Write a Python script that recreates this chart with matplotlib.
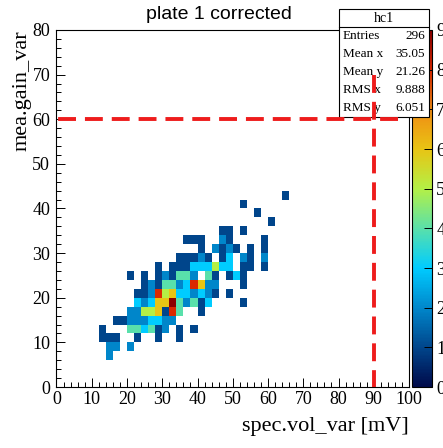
import numpy as np
import matplotlib
matplotlib.use("Agg")
import matplotlib.pyplot as plt
from matplotlib.colors import LinearSegmentedColormap
from matplotlib.patches import Rectangle
from matplotlib.lines import Line2D
from matplotlib.ticker import MultipleLocator

plt.rcParams['font.family'] = ['Liberation Serif', 'DejaVu Serif']

# 2D histogram cells: lower x edge, lower y edge, entries (bins are 2 x 2)
cell_x = [64,
          52,
          56,
          60,
          46, 48, 52,
          36, 38, 40, 46, 48, 58,
          40, 44, 46, 48, 50, 54, 58,
          34, 36, 38, 40, 42, 46, 48, 52, 54, 58,
          28, 32, 34, 36, 38, 40, 42, 44, 46, 48, 52, 54, 58,
          20, 24, 28, 30, 32, 34, 36, 38, 42, 44, 48, 50, 52,
          24, 26, 28, 30, 32, 34, 36, 38, 40, 42, 44, 52,
          22, 24, 26, 28, 30, 32, 34, 36, 38, 40, 42, 44, 48,
          22, 24, 26, 28, 30, 32, 34, 36, 38, 40, 42, 52,
          20, 22, 24, 26, 28, 30, 32, 34, 40,
          16, 18, 20, 22, 24, 26, 28, 30, 32,
          12, 20, 22, 24, 26, 28, 30, 34, 38,
          12, 14, 16, 22, 28, 34,
          14, 16, 20,
          14]
cell_y = [42,
          40,
          38,
          36,
          34, 34, 34,
          32, 32, 32, 32, 32, 32,
          30, 30, 30, 30, 30, 30, 30,
          28, 28, 28, 28, 28, 28, 28, 28, 28, 28,
          26, 26, 26, 26, 26, 26, 26, 26, 26, 26, 26, 26, 26,
          24, 24, 24, 24, 24, 24, 24, 24, 24, 24, 24, 24, 24,
          22, 22, 22, 22, 22, 22, 22, 22, 22, 22, 22, 22,
          20, 20, 20, 20, 20, 20, 20, 20, 20, 20, 20, 20, 20,
          18, 18, 18, 18, 18, 18, 18, 18, 18, 18, 18, 18,
          16, 16, 16, 16, 16, 16, 16, 16, 16,
          14, 14, 14, 14, 14, 14, 14, 14, 14,
          12, 12, 12, 12, 12, 12, 12, 12, 12,
          10, 10, 10, 10, 10, 10,
          8, 8, 8,
          6]
cell_n = [1,
          1,
          1,
          1,
          1, 1, 1,
          1, 1, 1, 2, 1, 1,
          1, 2, 1, 2, 1, 1, 1,
          1, 1, 1, 2, 1, 1, 3, 2, 1, 2,
          1, 1, 1, 1, 3, 3, 3, 5, 3, 3, 1, 1, 1,
          1, 1, 1, 2, 1, 4, 4, 2, 4, 1, 1, 3, 1,
          1, 2, 1, 4, 4, 2, 3, 8, 6, 2, 2, 1,
          1, 1, 2, 8, 5, 6, 3, 3, 2, 3, 2, 1, 1,
          3, 2, 3, 6, 6, 9, 4, 2, 4, 1, 3, 1,
          2, 2, 5, 5, 6, 1, 8, 4, 1,
          1, 1, 2, 2, 2, 3, 3, 2, 2,
          1, 4, 4, 3, 4, 1, 2, 1, 1,
          1, 1, 1, 1, 1, 1,
          2, 2, 2,
          2]

stat_names = ['Entries', 'Mean x', 'Mean y', 'RMS x', 'RMS y']
stat_values = ['296', '35.05', '21.26', '9.888', '6.051']

x_edges = np.arange(0, 102, 2)
y_edges = np.arange(0, 82, 2)
H = np.zeros((len(y_edges) - 1, len(x_edges) - 1))
for x, y, n in zip(cell_x, cell_y, cell_n):
    H[y // 2, x // 2] = n
H = np.ma.masked_equal(H, 0)

# palette close to the ROOT one in the picture
stops = ['#000a4a', '#00468c', '#0088cc', '#00ccff', '#5ae0aa',
         '#b4f046', '#e8c414', '#f08c14', '#dc2800', '#8c0000']
cmap = LinearSegmentedColormap.from_list('rootpal', list(zip(np.linspace(0, 1, 10), stops)))

W, Hpx = 443, 448
fig = plt.figure(figsize=(W / 100, Hpx / 100), dpi=100)
ax = fig.add_axes([56.5 / W, 61 / Hpx, 352.5 / W, 357 / Hpx])
cax = fig.add_axes([412 / W, 61 / Hpx, 20 / W, 357 / Hpx])
ax.set_zorder(2)

mesh = ax.pcolormesh(x_edges, y_edges, H, cmap=cmap, vmin=0, vmax=9,
                     edgecolors='none', antialiased=False)
ax.set_xlim(0, 100)
ax.set_ylim(0, 80)

ax.xaxis.set_major_locator(MultipleLocator(10))
ax.xaxis.set_minor_locator(MultipleLocator(2))
ax.yaxis.set_major_locator(MultipleLocator(10))
ax.yaxis.set_minor_locator(MultipleLocator(2))
ax.tick_params(which='major', direction='in', length=6.5, width=0.7, labelsize=13, top=False, right=False)
ax.tick_params(which='minor', direction='in', length=3.6, width=0.7, top=False, right=False)
ax.tick_params(axis='x', pad=3)
ax.tick_params(axis='y', pad=4.5)
for s in ax.spines.values():
    s.set_linewidth(0.8)

ax.set_xlabel('spec.vol_var [mV]', fontsize=16, loc='right')
ax.xaxis.set_label_coords(1.0, -0.085)
ax.set_ylabel('mea.gain_var', fontsize=16, loc='top')
ax.yaxis.set_label_coords(-0.07, 1.0)

fig.text(219 / W, 1 - 14.5 / Hpx, 'plate 1 corrected', ha='center', va='center',
         family='Liberation Sans', fontsize=14)

# red cut lines
ax.plot([97, 0], [60, 60], color='#ee1c1c', lw=2.8, linestyle=(0, (4.6, 2.3)), zorder=7)
ax.plot([90, 90], [70, 0], color='#ee1c1c', lw=2.8, linestyle=(0, (4.6, 2.3)), zorder=7)

cb = fig.colorbar(mesh, cax=cax, ticks=range(10))
cb.outline.set_linewidth(0.8)
cax.tick_params(direction='in', length=5.5, width=0.7, labelsize=13, pad=3)

# stats box
def fp(x, y):
    return (x / W, 1 - y / Hpx)

box_l, box_r, box_t, box_b, box_sep = 339, 429, 9.3, 116.7, 27.3
rect = Rectangle(fp(box_l, box_b), (box_r - box_l) / W, (box_b - box_t) / Hpx,
                 transform=fig.transFigure, fc='white', ec='black', lw=0.8,
                 zorder=5, clip_on=False)
ax.add_artist(rect)
ax.add_artist(Line2D([box_l / W, box_r / W], [1 - box_sep / Hpx] * 2,
                     transform=fig.transFigure, color='black', lw=0.8, zorder=5, clip_on=False))
ax.text(*fp((box_l + box_r) / 2, (box_t + box_sep) / 2), 'hc1', transform=fig.transFigure,
        ha='center', va='center', fontsize=10, zorder=6)
row_h = (box_b - box_sep) / len(stat_names)
for k, (name, val) in enumerate(zip(stat_names, stat_values)):
    yc = box_sep + row_h * (k + 0.5)
    ax.text(*fp(box_l + 4, yc), name, transform=fig.transFigure, ha='left', va='center',
            fontsize=9.5, zorder=6)
    ax.text(*fp(box_r - 4, yc), val, transform=fig.transFigure, ha='right', va='center',
            fontsize=9.5, zorder=6)

fig.savefig('out.png', dpi=100)
